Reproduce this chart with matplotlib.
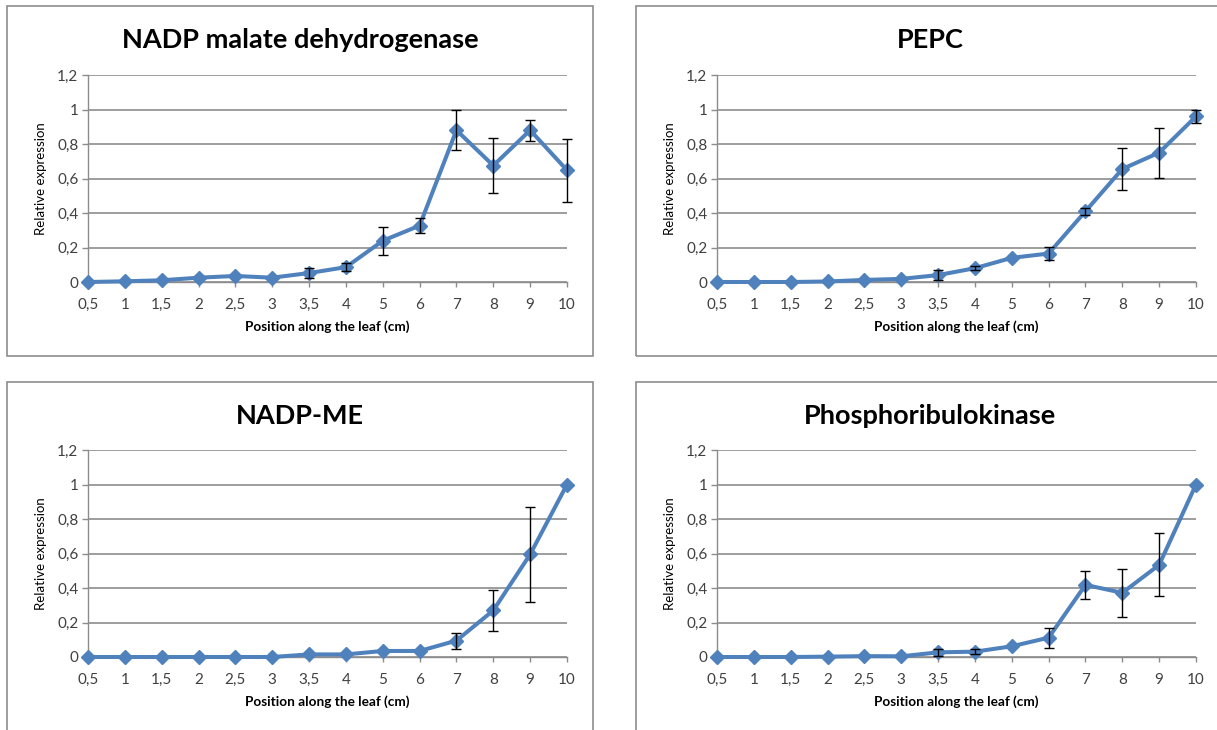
import numpy as np
import matplotlib
matplotlib.use('Agg')
from matplotlib import pyplot as plt
from matplotlib.patches import Rectangle
import matplotlib.ticker as ticker

plt.rcParams['font.family'] = ['Lato', 'DejaVu Sans']

#------------------- Data ----------------------
positions = ['0,5', '1', '1,5', '2', '2,5', '3', '3,5', '4', '5', '6', '7', '8', '9', '10']

titles = ['NADP malate dehydrogenase', 'PEPC', 'NADP-ME', 'Phosphoribulokinase']

nadp_mdh = [0, 0.004, 0.01, 0.025, 0.035, 0.025, 0.052, 0.086, 0.239, 0.327, 0.88, 0.675, 0.88, 0.648]
nadp_mdh_err = [0, 0, 0, 0, 0, 0, 0.027, 0.025, 0.08, 0.042, 0.115, 0.16, 0.062, 0.183]

pepc = [0, 0, 0, 0.003, 0.012, 0.018, 0.04, 0.08, 0.14, 0.165, 0.41, 0.655, 0.75, 0.96]
pepc_err = [0, 0, 0, 0, 0, 0, 0.028, 0.01, 0, 0.04, 0.02, 0.122, 0.145, 0.04]

nadp_me = [0, 0, 0, 0, 0, 0, 0.015, 0.015, 0.035, 0.035, 0.095, 0.27, 0.595, 1.0]
nadp_me_err = [0, 0, 0, 0, 0, 0, 0, 0, 0, 0, 0.047, 0.118, 0.274, 0]

prk = [0, 0, 0, 0.002, 0.005, 0.004, 0.027, 0.031, 0.062, 0.112, 0.418, 0.372, 0.534, 1.0]
prk_err = [0, 0, 0, 0, 0, 0, 0.02, 0.016, 0, 0.058, 0.081, 0.14, 0.182, 0]

series = [(nadp_mdh, nadp_mdh_err), (pepc, pepc_err), (nadp_me, nadp_me_err), (prk, prk_err)]

#------------------- Layout (pixels) ----------------------
W, H = 1217, 730
# chart boxes: x0, y0(top), x1, y1(bottom)
boxes = [(7, 6, 593, 356), (636, 6, 1224, 356), (7, 382, 593, 736), (636, 382, 1224, 736)]
# plot areas: left, top, right, bottom
areas = [(88, 75, 567, 282), (717, 75, 1196, 282), (88, 450, 567, 657), (717, 450, 1196, 657)]

blue = '#4f81bd'
grid = '#8c8c8c'
txt = '#404040'

fig = plt.figure(figsize=(W / 100, H / 100), dpi=100)

for k in range(4):
    bx0, by0, bx1, by1 = boxes[k]
    fig.patches.append(Rectangle((bx0 / W, 1 - by1 / H), (bx1 - bx0) / W, (by1 - by0) / H,
                                 transform=fig.transFigure, fill=False, edgecolor='#8c8c8c',
                                 linewidth=1.2, clip_on=False))
    fig.text((bx0 + bx1) / 2 / W, 1 - (by0 + 34) / H, titles[k], ha='center', va='center',
             fontsize=19.5, fontweight='bold', color='black')

    l, t, r, b = areas[k]
    ax = fig.add_axes([l / W, 1 - b / H, (r - l) / W, (b - t) / H])
    vals, err = series[k]
    x = np.arange(len(positions))
    ax.plot(x, vals, color=blue, linewidth=2.9, marker='D', markersize=7.5,
            markeredgecolor=blue, clip_on=False, zorder=3)
    e = np.array(err)
    m = e > 0
    ax.errorbar(x[m], np.array(vals)[m], yerr=e[m], fmt='none', ecolor='black', elinewidth=1.0,
                capsize=3.5, capthick=1.0, zorder=4, clip_on=False)

    ax.set_xlim(0, len(positions) - 1)
    ax.set_ylim(0, 1.2)
    ax.set_xticks(x)
    ax.set_xticklabels(positions)
    ax.set_yticks(np.arange(0, 1.21, 0.2))
    ax.yaxis.set_major_formatter(ticker.FuncFormatter(
        lambda v, p: ('%g' % round(v, 1)).replace('.', ',')))
    ax.grid(axis='y', color=grid, linewidth=1.2)
    ax.set_axisbelow(True)
    for s in ['top', 'right']:
        ax.spines[s].set_visible(False)
    for s in ['left', 'bottom']:
        ax.spines[s].set_color(grid)
        ax.spines[s].set_linewidth(1.0)
    ax.tick_params(axis='x', direction='out', length=3.5, width=1.0, color=grid,
                   labelsize=11, labelcolor=txt, pad=8)
    ax.tick_params(axis='y', direction='out', length=4, width=1.0, color=grid,
                   labelsize=11, labelcolor=txt, pad=3)
    ax.set_ylabel('Relative expression', fontsize=9.5, color='black', labelpad=7)
    ax.set_xlabel('Position along the leaf (cm)', fontsize=9.8, fontweight='bold',
                  color='black', labelpad=6)

plt.savefig('out.png', dpi=100)
